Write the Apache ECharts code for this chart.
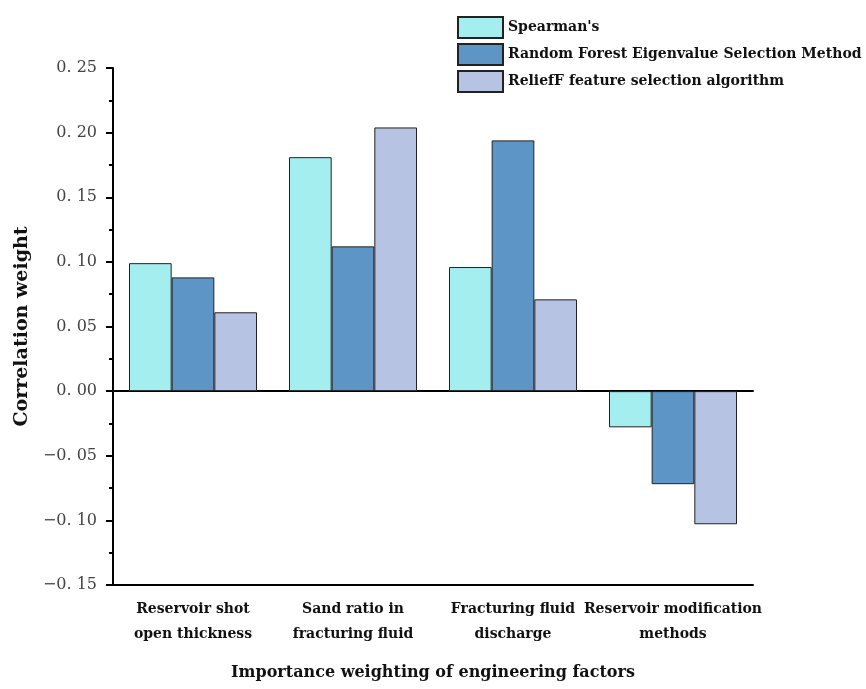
<!DOCTYPE html>
<html>
<head>
<meta charset="utf-8">
<script src="https://cdn.jsdelivr.net/npm/echarts@6/dist/echarts.min.js"></script>
<style>html,body{margin:0;padding:0;background:#fff}#c{width:866px;height:689px}</style>
</head>
<body>
<div id="c"></div>
<script>
const categories = ['Reservoir shot\nopen thickness', 'Sand ratio in\nfracturing fluid', 'Fracturing fluid\ndischarge', 'Reservoir modification\nmethods'];
const seriesNames = ["Spearman's", 'Random Forest Eigenvalue Selection Method', 'ReliefF feature selection algorithm'];
const spearman = [0.099, 0.181, 0.096, -0.028];
const randomForest = [0.088, 0.112, 0.194, -0.072];
const reliefF = [0.061, 0.204, 0.071, -0.103];
const colors = ['#A5EEF0', '#5E95C7', '#B7C3E3'];

const serif = '"DejaVu Serif", "Liberation Serif", serif';
const chart = echarts.init(document.getElementById('c'));
const values = [spearman, randomForest, reliefF];
chart.setOption({
  animation: false,
  grid: {left: 113, right: 113, top: 68, bottom: 104},
  legend: {
    orient: 'vertical', left: 452, top: 11, itemWidth: 45, itemHeight: 21, itemGap: 4,
    icon: 'rect',
    textStyle: {fontFamily: serif, fontWeight: 'bold', fontSize: 14, color: '#111'},
    data: seriesNames
  },
  xAxis: [{
    type: 'category', data: categories, position: 'bottom',
    axisLine: {onZero: false, lineStyle: {color: '#000', width: 2}},
    axisTick: {alignWithLabel: true, length: 7, lineStyle: {color: '#000', width: 2}},
    axisLabel: {fontFamily: serif, fontWeight: 'bold', fontSize: 14, color: '#111', margin: 12, lineHeight: 25, interval: 0},
    name: 'Importance weighting of engineering factors', nameLocation: 'middle', nameGap: 80,
    nameTextStyle: {fontFamily: serif, fontWeight: 'bold', fontSize: 16, color: '#111'}
  }, {
    type: 'category', data: categories, position: 'bottom',
    axisLine: {onZero: true, lineStyle: {color: '#000', width: 2}},
    axisTick: {show: false}, axisLabel: {show: false}
  }],
  yAxis: {
    type: 'value', min: -0.15, max: 0.25, interval: 0.05,
    axisLine: {show: true, lineStyle: {color: '#000', width: 2}},
    axisTick: {show: true, length: 7, lineStyle: {color: '#000', width: 2}},
    minorTick: {show: true, splitNumber: 2, length: 4, lineStyle: {color: '#000', width: 2}},
    splitLine: {show: false},
    axisLabel: {
      fontFamily: serif, fontSize: 16, color: '#444', margin: 16,
      formatter: v => (v < -1e-9 ? '\u2212' : '') + Math.abs(v).toFixed(2).replace('.', '. ')
    },
    name: 'Correlation weight', nameLocation: 'middle', nameGap: 76, nameRotate: 90,
    nameTextStyle: {fontFamily: serif, fontWeight: 'bold', fontSize: 19, color: '#111'}
  },
  series: seriesNames.map((n, i) => ({
    name: n, type: 'bar', data: values[i], xAxisIndex: 0,
    barGap: '0%', barCategoryGap: '20%',
    itemStyle: {color: colors[i], borderColor: '#222', borderWidth: 1}
  }))
});
</script>
</body>
</html>
